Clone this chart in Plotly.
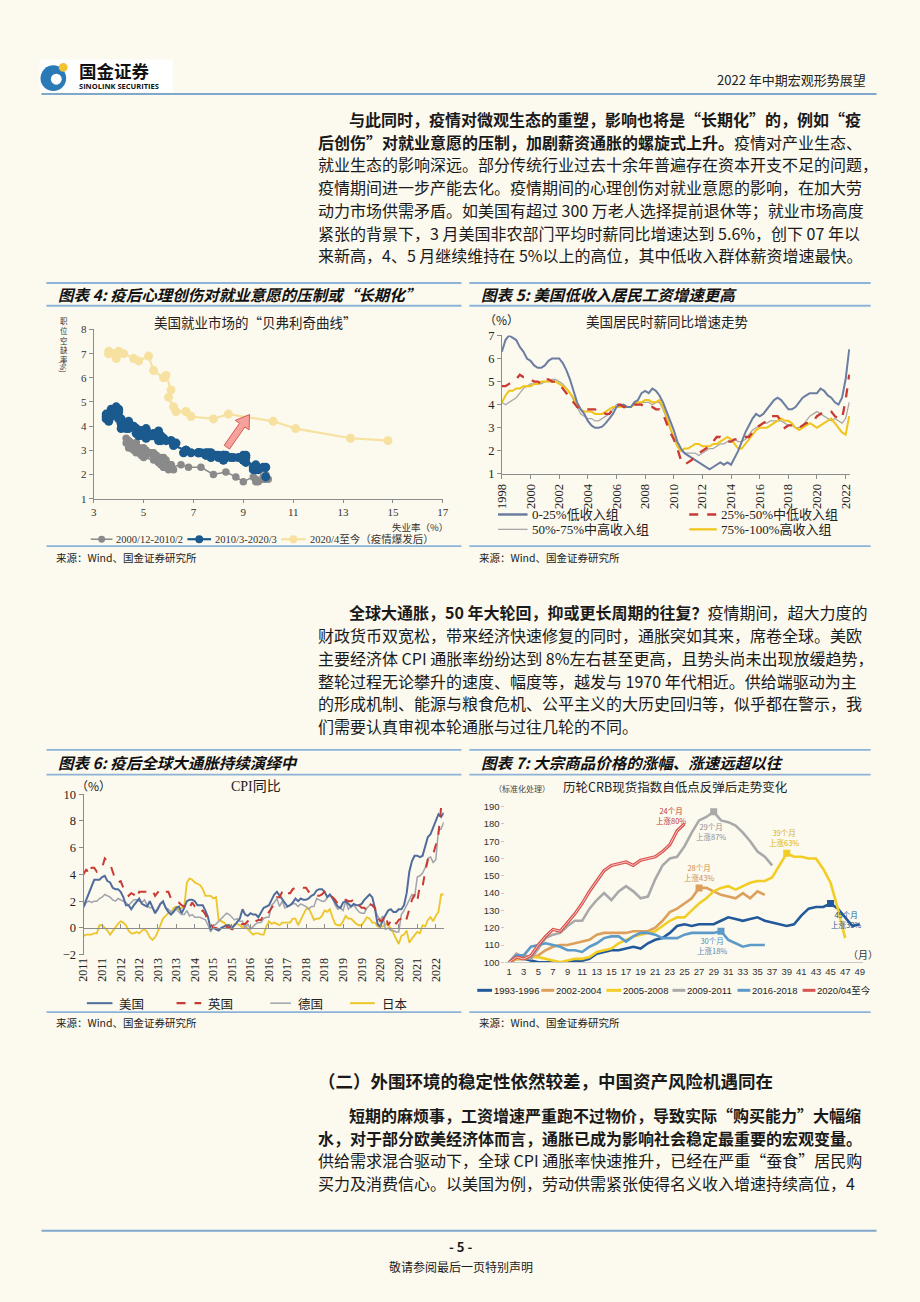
import math
import plotly.graph_objects as go

# ---------------- DATA ----------------
# Chart 4: Beveridge curve (unemployment rate %, job openings rate %)
bev_2000_2010 = [
    (4.3, 3.5), (4.4, 3.4), (4.3, 3.3), (4.4, 3.2), (4.5, 3.3), (4.6, 3.1), (4.7, 3.2), (4.9, 3.0), (5.0, 2.9), (5.3, 2.9), (5.5, 2.8), (5.7, 2.7),
    (5.7, 2.6), (5.7, 2.6), (5.7, 2.5), (5.9, 2.6), (5.8, 2.7), (5.8, 2.5), (5.8, 2.4), (5.7, 2.6), (5.7, 2.5), (5.7, 2.4), (5.9, 2.5), (6.0, 2.4),
    (5.8, 2.3), (5.9, 2.4), (5.9, 2.3), (6.0, 2.2), (6.1, 2.3), (6.2, 2.2), (6.1, 2.3), (6.1, 2.4), (6.1, 2.3), (6.0, 2.4), (5.8, 2.3), (5.7, 2.4),
    (5.7, 2.5), (5.6, 2.5), (5.8, 2.4), (5.6, 2.6), (5.6, 2.6), (5.5, 2.6), (5.5, 2.7), (5.4, 2.7), (5.4, 2.7), (5.5, 2.8), (5.4, 2.8), (5.4, 2.9),
    (5.3, 2.9), (5.4, 2.8), (5.2, 2.9), (5.2, 2.9), (5.1, 3.0), (5.0, 2.9), (5.0, 3.0), (4.9, 3.0), (5.0, 3.1), (5.0, 3.0), (5.0, 3.1), (4.9, 3.1),
    (4.7, 3.2), (4.8, 3.1), (4.7, 3.2), (4.7, 3.3), (4.6, 3.2), (4.6, 3.2), (4.7, 3.3), (4.7, 3.3), (4.5, 3.3), (4.4, 3.4), (4.5, 3.3), (4.4, 3.2),
    (4.6, 3.2), (4.5, 3.3), (4.4, 3.1), (4.5, 3.1), (4.4, 3.2), (4.6, 3.1), (4.7, 3.0), (4.6, 3.0), (4.7, 3.1), (4.7, 3.0), (4.7, 2.9), (5.0, 2.9),
    (5.0, 2.8), (4.9, 2.8), (5.1, 2.8), (5.0, 2.7), (5.4, 2.6), (5.6, 2.5), (5.8, 2.5), (6.1, 2.4), (6.1, 2.3), (6.5, 2.4), (6.8, 2.3), (7.3, 2.3),
    (7.8, 2.0), (8.3, 2.1), (8.7, 1.9), (9.0, 1.7), (9.4, 1.9), (9.5, 1.7), (9.5, 1.8), (9.6, 1.7), (9.8, 1.9), (10.0, 1.8), (9.9, 1.8), (9.9, 2.0),
    (9.8, 1.8), (9.8, 1.9),
]
bev_2010_2020 = [
    (9.9, 1.9), (9.9, 2.3), (9.6, 2.2), (9.4, 2.3), (9.5, 2.2), (9.5, 2.3), (9.6, 2.2), (9.5, 2.4), (9.4, 2.2), (9.8, 2.3),
    (9.1, 2.5), (9.0, 2.6), (9.0, 2.6), (9.1, 2.8), (9.0, 2.7), (9.1, 2.7), (9.0, 2.6), (9.0, 2.7), (9.0, 2.8), (8.8, 2.7), (8.6, 2.7), (8.5, 2.7),
    (8.3, 2.8), (8.3, 2.7), (8.2, 2.8), (8.2, 2.6), (8.2, 2.8), (8.2, 2.7), (8.2, 2.6), (8.0, 2.7), (7.8, 2.8), (7.8, 2.8), (7.7, 2.7), (7.9, 2.8),
    (8.0, 2.8), (7.7, 2.9), (7.5, 2.8), (7.6, 2.9), (7.5, 2.8), (7.5, 2.9), (7.3, 2.9), (7.2, 2.9), (7.2, 2.9), (7.2, 2.9), (6.9, 2.9), (6.7, 3.0),
    (6.6, 2.9), (6.7, 3.0), (6.7, 3.0), (6.2, 3.2), (6.3, 3.3), (6.1, 3.4), (6.2, 3.3), (6.1, 3.4), (5.9, 3.4), (5.7, 3.4), (5.8, 3.5), (5.6, 3.4),
    (5.7, 3.6), (5.5, 3.6), (5.4, 3.7), (5.4, 3.6), (5.6, 3.8), (5.3, 3.6), (5.2, 3.7), (5.1, 3.8), (5.0, 3.6), (5.0, 3.7), (5.1, 3.5), (5.0, 3.7),
    (4.9, 3.8), (4.9, 3.8), (5.0, 3.8), (5.1, 3.9), (4.8, 3.7), (4.9, 3.8), (4.8, 3.6), (4.9, 3.7), (5.0, 3.6), (4.9, 3.8), (4.7, 3.9), (4.7, 3.7),
    (4.7, 3.9), (4.6, 4.0), (4.4, 4.0), (4.4, 3.9), (4.4, 4.0), (4.3, 3.9), (4.3, 4.1), (4.4, 4.2), (4.2, 4.1), (4.1, 4.1), (4.2, 4.0), (4.1, 3.9),
    (4.1, 4.1), (4.1, 4.3), (4.0, 4.3), (4.0, 4.4), (3.8, 4.5), (4.0, 4.6), (3.8, 4.6), (3.8, 4.6), (3.7, 4.7), (3.8, 4.7), (3.8, 4.6), (3.9, 4.8),
    (4.0, 4.7), (3.8, 4.6), (3.8, 4.6), (3.6, 4.5), (3.6, 4.5), (3.6, 4.4), (3.7, 4.4), (3.6, 4.4), (3.5, 4.3), (3.6, 4.4), (3.6, 4.3), (3.6, 4.2),
    (3.5, 4.4), (3.5, 4.5), (4.4, 4.1),
]
bev_2020_now = [
    (14.8, 3.4), (13.3, 3.5), (11.1, 3.9), (10.2, 4.2), (8.4, 4.5), (7.8, 4.3), (6.9, 4.4), (6.7, 4.6), (6.7, 4.6), (6.3, 4.6), (6.2, 4.8),
    (6.0, 5.2), (6.1, 5.5), (5.9, 6.1), (5.8, 6.0), (5.4, 6.3), (5.2, 6.9), (4.8, 6.7), (4.6, 6.8), (4.2, 7.0), (4.0, 7.1), (3.9, 6.8),
    (3.8, 7.0), (3.6, 7.1), (3.6, 7.0), (3.6, 7.0),
]
bev_names = ["2000/12-2010/2", "2010/3-2020/3", "2020/4至今（疫情爆发后）"]
bev_xticks = [3, 5, 7, 9, 11, 13, 15, 17]

# Chart 5: US hourly wage growth by income quartile (%), quarterly from 1998Q1
wage_start_year = 1998
wage_q1 = [6.3, 6.8, 7.0, 6.9, 6.8, 6.5, 6.3, 6.0, 5.9, 5.7, 5.6, 5.6, 5.7, 5.9, 6.0, 6.0, 6.0, 5.8, 5.5, 5.1,
           4.6, 4.1, 3.8, 3.6, 3.3, 3.1, 3.0, 3.0, 3.05, 3.2, 3.4, 3.6, 3.9, 4.0, 4.0, 3.9, 3.9, 4.1, 4.2, 4.5,
           4.6, 4.5, 4.7, 4.6, 4.4, 4.1, 3.7, 3.3, 2.9, 2.4, 2.1, 1.9, 1.8, 1.7, 1.6, 1.5, 1.4, 1.3, 1.2, 1.3,
           1.4, 1.5, 1.4, 1.5, 1.4, 1.7, 2.0, 2.4, 2.8, 3.1, 3.4, 3.6, 3.5, 3.6, 3.8, 4.0, 4.2, 4.3, 4.2, 4.0,
           3.8, 3.8, 3.9, 4.1, 4.3, 4.4, 4.5, 4.5, 4.5, 4.7, 4.6, 4.4, 4.3, 4.1, 4.0, 4.3, 5.1, 6.4]
wage_q2 = [4.8, 4.8, 4.9, 5.0, 5.1, 5.3, 5.2, 5.2, 5.1, 5.0, 5.0, 4.9, 5.1, 5.1, 5.0, 5.0, 4.9, 4.7, 4.5, 4.3,
           4.1, 3.9, 3.8, 3.8, 3.8, 3.8, 3.8, 3.7, 3.7, 3.6, 3.6, 3.8, 4.0, 4.0, 3.9, 3.9, 3.9, 4.0, 4.0, 4.0,
           3.9, 3.9, 3.9, 3.8, 3.8, 3.6, 3.2, 2.8, 2.5, 2.1, 1.6, 1.4, 1.5, 1.6, 1.8, 1.9, 2.0, 2.1, 2.2, 2.4,
           2.6, 2.6, 2.5, 2.4, 2.4, 2.5, 2.5, 2.6, 2.6, 2.6, 2.8, 3.0, 3.1, 3.2, 3.3, 3.5, 3.5, 3.5, 3.3, 3.0,
           3.1, 3.1, 3.0, 3.0, 3.1, 3.2, 3.2, 3.3, 3.5, 3.6, 3.7, 3.7, 3.7, 3.5, 3.4, 3.4, 4.2, 5.3]
wage_q3 = [4.1, 4.0, 4.1, 4.2, 4.3, 4.5, 4.7, 4.8, 4.9, 4.9, 4.9, 4.9, 5.0, 5.0, 5.1, 5.1, 5.0, 4.9, 4.7, 4.5,
           4.2, 3.9, 3.6, 3.5, 3.4, 3.4, 3.3, 3.3, 3.4, 3.5, 3.6, 3.8, 4.0, 4.0, 3.9, 3.9, 3.9, 4.0, 4.0, 4.1,
           4.1, 4.1, 4.0, 4.1, 4.1, 3.8, 3.4, 2.9, 2.5, 2.2, 2.0, 1.9, 1.9, 1.9, 1.9, 1.8, 1.9, 2.0, 2.1, 2.1,
           2.2, 2.3, 2.3, 2.4, 2.5, 2.5, 2.4, 2.4, 2.5, 2.7, 2.9, 3.0, 3.1, 3.2, 3.2, 3.3, 3.3, 3.3, 3.3, 3.2,
           3.1, 3.1, 3.0, 3.0, 3.1, 3.3, 3.5, 3.6, 3.7, 3.6, 3.5, 3.4, 3.3, 3.4, 3.3, 3.2, 3.4, 4.1]
wage_q4 = [4.1, 4.4, 4.6, 4.6, 4.7, 4.7, 4.8, 4.8, 4.8, 4.9, 4.9, 5.0, 5.0, 5.0, 5.0, 5.0, 4.9, 4.8, 4.7, 4.5,
           4.3, 4.0, 3.8, 3.7, 3.7, 3.7, 3.6, 3.6, 3.6, 3.7, 3.8, 3.9, 3.9, 3.9, 4.0, 3.9, 3.9, 4.0, 4.1, 4.1,
           4.2, 4.2, 4.1, 4.1, 4.2, 3.9, 3.5, 3.0, 2.6, 2.2, 2.0, 2.1, 2.1, 2.2, 2.3, 2.3, 2.2, 2.2, 2.2, 2.3,
           2.3, 2.4, 2.5, 2.6, 2.5, 2.3, 2.1, 2.1, 2.3, 2.5, 2.7, 2.9, 3.0, 3.0, 3.0, 3.1, 3.2, 3.3, 3.4, 3.3,
           3.3, 3.2, 3.0, 2.9, 3.0, 3.1, 3.2, 3.1, 3.0, 3.1, 3.2, 3.3, 3.4, 3.2, 3.0, 2.8, 2.7, 3.5]
wage_names = ["0-25%低收入组", "25%-50%中低收入组", "50%-75%中高收入组", "75%-100%高收入组"]
wage_xticks = [str(y) for y in range(1998, 2023, 2)]

# Chart 6: CPI YoY (%), monthly 2011-01 .. 2022-05
cpi_start = (2011, 1)
cpi_us = [1.6, 2.1, 2.7, 3.2, 3.6, 3.6, 3.6, 3.8, 3.9, 3.5, 3.4, 3.0,
          2.9, 2.9, 2.7, 2.3, 1.7, 1.7, 1.4, 1.7, 2.0, 2.2, 1.8, 1.7,
          1.6, 2.0, 1.5, 1.1, 1.4, 1.8, 2.0, 1.5, 1.2, 1.0, 1.2, 1.5,
          1.6, 1.1, 1.5, 2.0, 2.1, 2.1, 2.0, 1.7, 1.7, 1.7, 1.3, 0.8,
          -0.1, 0.0, -0.1, -0.2, 0.0, 0.1, 0.2, 0.2, 0.0, 0.2, 0.5, 0.7,
          1.4, 1.0, 0.9, 1.1, 1.0, 1.0, 0.8, 1.1, 1.5, 1.6, 1.7, 2.1,
          2.5, 2.7, 2.4, 2.2, 1.9, 1.6, 1.7, 1.9, 2.2, 2.0, 2.2, 2.1,
          2.1, 2.2, 2.4, 2.5, 2.8, 2.9, 2.9, 2.7, 2.3, 2.5, 2.2, 1.9,
          1.6, 1.5, 1.9, 2.0, 1.8, 1.6, 1.8, 1.7, 1.7, 1.8, 2.1, 2.3,
          2.5, 2.3, 1.5, 0.3, 0.1, 0.6, 1.0, 1.3, 1.4, 1.2, 1.2, 1.4,
          1.4, 1.7, 2.6, 4.2, 5.0, 5.4, 5.4, 5.3, 5.4, 6.2, 6.8, 7.0,
          7.5, 7.9, 8.5, 8.3, 8.6]
cpi_uk = [4.0, 4.4, 4.0, 4.5, 4.5, 4.2, 4.4, 4.5, 5.2, 5.0, 4.8, 4.2,
          3.6, 3.4, 3.5, 3.0, 2.8, 2.4, 2.6, 2.5, 2.2, 2.7, 2.7, 2.7,
          2.7, 2.8, 2.8, 2.4, 2.7, 2.9, 2.8, 2.7, 2.7, 2.2, 2.1, 2.0,
          1.9, 1.7, 1.6, 1.8, 1.5, 1.9, 1.6, 1.5, 1.2, 1.3, 1.0, 0.5,
          0.3, 0.0, 0.0, -0.1, 0.1, 0.0, 0.1, 0.0, -0.1, -0.1, 0.1, 0.2,
          0.3, 0.3, 0.5, 0.3, 0.3, 0.5, 0.6, 0.6, 1.0, 0.9, 1.2, 1.6,
          1.8, 2.3, 2.3, 2.7, 2.9, 2.6, 2.6, 2.9, 3.0, 3.0, 3.1, 3.0,
          3.0, 2.7, 2.5, 2.4, 2.4, 2.4, 2.5, 2.7, 2.4, 2.4, 2.3, 2.1,
          1.8, 1.9, 1.9, 2.1, 2.0, 2.0, 2.1, 1.7, 1.7, 1.5, 1.5, 1.3,
          1.8, 1.7, 1.5, 0.8, 0.5, 0.6, 1.0, 0.2, 0.5, 0.7, 0.3, 0.6,
          0.7, 0.4, 0.7, 1.5, 2.1, 2.5, 2.0, 3.2, 3.1, 4.2, 5.1, 5.4,
          5.5, 6.2, 7.0, 9.0, 9.1]
cpi_de = [1.5, 1.9, 2.0, 1.9, 2.0, 2.0, 2.2, 2.3, 2.5, 2.4, 2.3, 2.1,
          2.0, 2.2, 2.1, 2.0, 1.9, 1.7, 1.9, 2.1, 2.1, 2.0, 1.9, 2.1,
          1.7, 1.5, 1.5, 1.2, 1.5, 1.8, 1.9, 1.5, 1.4, 1.2, 1.3, 1.4,
          1.2, 1.0, 1.0, 1.3, 0.9, 1.0, 0.8, 0.8, 0.8, 0.7, 0.6, 0.2,
          -0.3, 0.1, 0.3, 0.5, 0.7, 0.9, 1.1, 1.0, 0.8, 0.6, 0.7, 0.5,
          0.5, 0.0, 0.3, -0.1, 0.1, 0.3, 0.4, 0.4, 0.7, 0.8, 0.8, 1.7,
          1.9, 2.2, 1.6, 2.0, 1.5, 1.6, 1.7, 1.8, 1.8, 1.6, 1.8, 1.7,
          1.6, 1.4, 1.6, 1.6, 2.2, 2.1, 2.0, 2.0, 2.3, 2.5, 2.3, 1.7,
          1.4, 1.5, 1.3, 2.0, 1.4, 1.6, 1.7, 1.4, 1.2, 1.1, 1.1, 1.5,
          1.7, 1.7, 1.4, 0.9, 0.6, 0.9, -0.1, 0.0, -0.2, -0.2, -0.3, -0.3,
          1.0, 1.3, 1.7, 2.0, 2.5, 2.3, 3.8, 3.9, 4.1, 4.5, 5.2, 5.3,
          4.9, 5.1, 7.3, 7.4, 7.9]
cpi_jp = [-0.6, -0.5, -0.5, -0.5, -0.4, -0.4, 0.2, 0.2, 0.0, -0.2, -0.5, -0.2,
          0.1, 0.3, 0.5, 0.4, 0.2, -0.2, -0.4, -0.4, -0.3, -0.4, -0.2, -0.1,
          -0.3, -0.7, -0.9, -0.7, -0.3, 0.2, 0.7, 0.9, 1.1, 1.1, 1.5, 1.6,
          1.4, 1.5, 1.6, 3.4, 3.7, 3.6, 3.4, 3.3, 3.2, 2.9, 2.4, 2.4,
          2.4, 2.2, 2.3, 0.6, 0.5, 0.4, 0.2, 0.2, 0.0, 0.3, 0.3, 0.2,
          0.0, 0.3, -0.1, -0.3, -0.5, -0.4, -0.4, -0.5, -0.5, 0.1, 0.5, 0.3,
          0.4, 0.3, 0.2, 0.4, 0.4, 0.4, 0.4, 0.7, 0.7, 0.2, 0.6, 1.0,
          1.4, 1.5, 1.1, 0.6, 0.7, 0.7, 0.9, 1.3, 1.2, 1.4, 0.8, 0.3,
          0.2, 0.2, 0.5, 0.9, 0.7, 0.7, 0.5, 0.3, 0.2, 0.2, 0.5, 0.8,
          0.7, 0.4, 0.4, 0.1, 0.1, 0.1, 0.3, 0.2, 0.0, -0.4, -0.9, -1.2,
          -0.6, -0.5, -0.2, -1.1, -0.8, -0.5, -0.3, -0.4, 0.2, 0.1, 0.6, 0.8,
          0.5, 0.9, 1.2, 2.5, 2.5]
cpi_names = ["美国", "英国", "德国", "日本"]
cpi_tick_step = 7

# Chart 7: CRB spot index, normalised from trough (=100), by month
crb_1993 = [100, 102, 102, 101, 100, 100, 100, 100, 100, 101, 101, 102, 105, 106, 107, 107, 108, 109, 108, 111,
            113, 114, 117, 121, 122, 121, 122, 122, 122, 124, 126, 125, 124, 125, 126, 124, 123, 122, 121, 122,
            127, 131, 132, 132, 134, 131, 126, 121, 122]
crb_2002 = [100, 102, 104, 103, 104, 107, 109, 110, 110, 111, 112, 113, 116, 117, 117, 117, 117, 118, 118, 118,
            120, 124, 129, 131, 134, 137, 143, 143, 141, 139, 138, 137, 140, 137, 141, 139]
crb_2005 = [100, 102, 102, 103, 103, 102, 101, 100, 101, 102, 102, 103, 106, 107, 108, 111, 113, 115, 116, 117,
            118, 121, 124, 126, 126, 130, 134, 137, 141, 143, 144, 142, 144, 146, 147, 147, 149, 156, 163, 161,
            161, 160, 160, 154, 146, 131, 114]
crb_2009 = [100, 105, 103, 102, 108, 114, 116, 117, 121, 124, 124, 131, 136, 140, 136, 141, 144, 141, 137, 138,
            148, 156, 160, 161, 167, 175, 182, 184, 187, 182, 181, 179, 175, 170, 164, 161, 156]
crb_2016 = [100, 104, 104, 109, 110, 111, 110, 109, 107, 107, 106, 109, 111, 114, 115, 115, 112, 115, 117, 117,
            116, 114, 114, 114, 116, 117, 117, 117, 117, 118, 113, 111, 109, 110, 110, 110]
crb_2020 = [100, 103, 102, 104, 110, 115, 119, 118, 123, 128, 134, 141, 147, 153, 156, 157, 158, 156, 159, 160,
            161, 164, 168, 176, 180]
crb_names = ["1993-1996", "2002-2004", "2005-2008", "2009-2011", "2016-2018", "2020/04至今"]
crb_peak_month = {"1993-1996": 45, "2002-2004": 27, "2005-2008": 39, "2009-2011": 29, "2016-2018": 30}
crb_notes = {"2020/04至今": "24个月<br>上涨80%", "2009-2011": "29个月<br>上涨87%", "2005-2008": "39个月<br>上涨63%",
             "2002-2004": "28个月<br>上涨43%", "1993-1996": "45个月<br>上涨33%", "2016-2018": "30个月<br>上涨18%"}

# ---------------- LAYOUT HELPERS ----------------
W, H = 920, 1302
BG = "#FCF9EE"
RULE = "#8DB4D8"
SERIF = "Liberation Serif, Noto Sans CJK SC, serif"
SANS = "Liberation Sans, Noto Sans CJK SC, sans-serif"
CJK = "Noto Sans CJK SC, Liberation Sans, sans-serif"


def X(px):
    return px / W


def Y(py):
    return 1 - py / H


shapes, annos = [], []


def hline(x0, x1, y, color=RULE, width=1.8, dash="solid"):
    shapes.append(dict(type="line", xref="paper", yref="paper", x0=X(x0), x1=X(x1), y0=Y(y), y1=Y(y),
                       line=dict(color=color, width=width, dash=dash)))


def circ(cx, cy, r, color, line=None):
    shapes.append(dict(type="circle", xref="paper", yref="paper", x0=X(cx - r), x1=X(cx + r), y0=Y(cy + r), y1=Y(cy - r),
                       fillcolor=color, line=dict(width=0 if line is None else 1, color=line or color)))


def txt(x, y, s, size, color="#1a1a1a", anchor="left", family=CJK, yanchor="middle", **kw):
    annos.append(dict(x=X(x), y=Y(y), xref="paper", yref="paper", text=s, showarrow=False, xanchor=anchor,
                      yanchor=yanchor, font=dict(size=size, color=color, family=family), **kw))


fig = go.Figure()

# ---------------- CHART 4 ----------------
c_gray, c_blue, c_yel = "#8A8A8A", "#1B5A8E", "#F7E1A0"
for pts, col, ms, lw, nm in [(bev_2000_2010, c_gray, 7.5, 1.5, bev_names[0]),
                             (bev_2010_2020, c_blue, 9, 2.2, bev_names[1]),
                             (bev_2020_now, c_yel, 9, 2.2, bev_names[2])]:
    fig.add_trace(go.Scatter(x=[p[0] for p in pts], y=[p[1] for p in pts], mode="lines+markers", name=nm,
                             line=dict(color=col, width=lw), marker=dict(size=ms, color=col),
                             xaxis="x", yaxis="y", showlegend=False))

# ---------------- CHART 5 ----------------
wage_t = [wage_start_year + 0.25 * i for i in range(len(wage_q1))]
c_slate, c_red, c_lgray, c_gold = "#6B7DA0", "#C83A33", "#A8A8A8", "#F0C419"
for ys, col, lw, dash, nm in [(wage_q3, c_lgray, 1.3, "solid", wage_names[2]),
                              (wage_q4, c_gold, 2.0, "solid", wage_names[3]),
                              (wage_q1, c_slate, 2.0, "solid", wage_names[0]),
                              (wage_q2, c_red, 2.3, "dash", wage_names[1])]:
    fig.add_trace(go.Scatter(x=wage_t, y=ys, mode="lines", name=nm, line=dict(color=col, width=lw, dash=dash),
                             xaxis="x2", yaxis="y2", showlegend=False))

# ---------------- CHART 6 ----------------
n_cpi = len(cpi_us)
cpi_idx = list(range(n_cpi))
cpi_year = [cpi_start[0] + (cpi_start[1] - 1 + i) // 12 for i in cpi_idx]
cpi_tickvals = cpi_idx[::cpi_tick_step]
cpi_ticktext = [str(cpi_year[i]) for i in cpi_tickvals]
c6_us, c6_uk, c6_de, c6_jp = "#4F6C9C", "#C83A33", "#A0A3AC", "#ECC52A"
for ys, col, lw, dash, nm in [(cpi_jp, c6_jp, 1.8, "solid", cpi_names[3]),
                              (cpi_de, c6_de, 1.5, "solid", cpi_names[2]),
                              (cpi_us, c6_us, 2.0, "solid", cpi_names[0]),
                              (cpi_uk, c6_uk, 2.0, "dash", cpi_names[1])]:
    fig.add_trace(go.Scatter(x=cpi_idx, y=ys, mode="lines", name=nm, line=dict(color=col, width=lw, dash=dash),
                             xaxis="x3", yaxis="y3", showlegend=False))
fig.add_trace(go.Scatter(x=[], y=[], xaxis="x4", yaxis="y3", showlegend=False, hoverinfo="skip"))

# ---------------- CHART 7 ----------------
crb_series = [crb_1993, crb_2002, crb_2005, crb_2009, crb_2016, crb_2020]
crb_colors = ["#22599B", "#DDA05C", "#F2CE25", "#A9A9A9", "#5C9BC9", "#D9534F"]
for ys, col, nm in zip(crb_series, crb_colors, crb_names):
    months = list(range(1, len(ys) + 1))
    if nm == "2020/04至今":
        fig.add_trace(go.Scatter(x=months, y=ys, mode="lines", name=nm, line=dict(color=col, width=3.2),
                                 xaxis="x5", yaxis="y5", showlegend=False))
        fig.add_trace(go.Scatter(x=months, y=ys, mode="lines", name=nm, line=dict(color="#F6C9C2", width=1),
                                 xaxis="x5", yaxis="y5", showlegend=False, hoverinfo="skip"))
    else:
        fig.add_trace(go.Scatter(x=months, y=ys, mode="lines", name=nm, line=dict(color=col, width=2.6),
                                 xaxis="x5", yaxis="y5", showlegend=False))
    if nm in crb_peak_month:
        m = crb_peak_month[nm]
        fig.add_trace(go.Scatter(x=[m], y=[ys[m - 1]], mode="markers", marker=dict(symbol="square", size=7, color=col),
                                 xaxis="x5", yaxis="y5", showlegend=False, hoverinfo="skip"))

note_pos = {"2020/04至今": (23.2, 185), "2009-2011": (28.6, 175.5), "2005-2008": (38.6, 172),
            "2002-2004": (27.0, 152), "1993-1996": (47.1, 124.5), "2016-2018": (28.8, 109.5)}
note_col = {"2020/04至今": "#C0392B", "2009-2011": "#909090", "2005-2008": "#D9B416", "2002-2004": "#D08E45",
            "1993-1996": "#22599B", "2016-2018": "#4F8DBF"}
for nm, s in crb_notes.items():
    x, y = note_pos[nm]
    annos.append(dict(x=x, y=y, xref="x5", yref="y5", text=s, showarrow=False,
                      font=dict(size=7.5, color=note_col[nm], family=CJK), align="center"))

# ---------------- AXES ----------------
axis_common = dict(showgrid=False, zeroline=False, linecolor="#8C8C8C", tickcolor="#8C8C8C", ticklen=4)
layout_axes = dict(
    xaxis=dict(domain=[X(88), X(442)], range=[3, 17], tickvals=bev_xticks, showline=True, ticks="outside",
               anchor="y", tickfont=dict(family=SERIF, size=11, color="#333"), showgrid=False, zeroline=False,
               linecolor="#8C8C8C", tickcolor="#8C8C8C", ticklen=3),
    yaxis=dict(domain=[Y(497), Y(326)], range=[1, 8], dtick=1, showline=True, ticks="outside", anchor="x",
               tickfont=dict(family=SERIF, size=11, color="#333"), **axis_common),
    xaxis2=dict(domain=[X(502), X(855)], range=[1998, 2022.3], tickvals=[int(t) for t in wage_xticks],
                ticktext=wage_xticks, tickangle=-90, showline=True, ticks="outside", anchor="y2",
                tickfont=dict(family=SERIF, size=12.5, color="#222"), **axis_common),
    yaxis2=dict(domain=[Y(472), Y(332)], range=[1, 7], dtick=1, showline=True, ticks="outside", anchor="x2",
                tickfont=dict(family=SERIF, size=12.5, color="#222"), **axis_common),
    xaxis3=dict(domain=[X(77.7), X(443)], range=[0, 136], tickvals=cpi_tickvals, ticktext=cpi_ticktext,
                tickangle=-90, showline=False, ticks="", anchor="y3",
                tickfont=dict(family=SERIF, size=12, color="#222"), **axis_common),
    yaxis3=dict(domain=[Y(958), Y(795.7)], range=[-2, 10], dtick=2, showline=True, ticks="outside", anchor="x3",
                tickfont=dict(family=SERIF, size=12.5, color="#222"), **axis_common),
    xaxis5=dict(domain=[X(505.6), X(868.7)], range=[0.5, 49.5], tickvals=list(range(1, 50, 2)), showline=True,
                ticks="", anchor="y5", tickfont=dict(family=SANS, size=9.5, color="#333"),
                showgrid=False, zeroline=False, linecolor="#C8C8C8"),
    yaxis5=dict(domain=[Y(965.7), Y(808.3)], range=[100, 190], dtick=10, showline=False, ticks="outside",
                ticklen=3, tickcolor="#C8C8C8", anchor="x5", showgrid=False, zeroline=False,
                tickfont=dict(family=SANS, size=9.5, color="#333")),
)
y3d = layout_axes["yaxis3"]["domain"]
zero_pos = y3d[0] + (0 - (-2)) / 12 * (y3d[1] - y3d[0])
layout_axes["xaxis4"] = dict(overlaying="x3", matches="x3", anchor="free", position=zero_pos, showline=True,
                             ticks="inside", ticklen=4, showticklabels=False, tickvals=cpi_tickvals,
                             showgrid=False, zeroline=False, linecolor="#8C8C8C", tickcolor="#8C8C8C")

# ---------------- PAGE DECORATION ----------------
# header / logo
shapes.append(dict(type="rect", xref="paper", yref="paper", x0=X(33), x1=X(168), y0=Y(86), y1=Y(53),
                   fillcolor="white", line=dict(width=0)))
circ(47, 72, 13, "#2A7AB8")
circ(50, 73, 5.5, "white")
circ(57, 61, 4.5, "#F2C230")
txt(71, 64, "<b>国金证券</b>", 17.5, color="#111")
txt(71, 80, "<b>SINOLINK SECURITIES</b>", 7.5, color="#111", family="Open Sans, Liberation Sans, sans-serif")
txt(873, 73, "2022 年中期宏观形势展望", 13, anchor="right", color="#222")
hline(35, 882, 88, color="#7FA8CC", width=2)

# paragraphs
BODY = 16
LS = 23
p1 = ["<b>与此同时，疫情对微观生态的重塑，影响也将是“长期化”的，例如“疫</b>",
      "<b>后创伤”对就业意愿的压制，加剧薪资通胀的螺旋式上升。</b>疫情对产业生态、",
      "就业生态的影响深远。部分传统行业过去十余年普遍存在资本开支不足的问题，",
      "疫情期间进一步产能去化。疫情期间的心理创伤对就业意愿的影响，在加大劳",
      "动力市场供需矛盾。如美国有超过 300 万老人选择提前退休等；就业市场高度",
      "紧张的背景下，3 月美国非农部门平均时薪同比增速达到 5.6%，创下 07 年以",
      "来新高，4、5 月继续维持在 5%以上的高位，其中低收入群体薪资增速最快。"]
for i, s in enumerate(p1):
    txt(345 if i == 0 else 313, 113 + LS * i, s, BODY)

p2 = ["<b>全球大通胀，50 年大轮回，抑或更长周期的往复？</b>疫情期间，超大力度的",
      "财政货币双宽松，带来经济快速修复的同时，通胀突如其来，席卷全球。美欧",
      "主要经济体 CPI 通胀率纷纷达到 8%左右甚至更高，且势头尚未出现放缓趋势，",
      "整轮过程无论攀升的速度、幅度等，越发与 1970 年代相近。供给端驱动为主",
      "的形成机制、能源与粮食危机、公平主义的大历史回归等，似乎都在警示，我",
      "们需要认真审视本轮通胀与过往几轮的不同。"]
for i, s in enumerate(p2):
    txt(345 if i == 0 else 313, 612 + LS * i, s, BODY)

txt(313, 1085, "<b>（二）外围环境的稳定性依然较差，中国资产风险机遇同在</b>", 17.5)
p3 = ["<b>短期的麻烦事，工资增速严重跑不过物价，导致实际“购买能力”大幅缩</b>",
      "<b>水，对于部分欧美经济体而言，通胀已成为影响社会稳定最重要的宏观变量。</b>",
      "供给需求混合驱动下，全球 CPI 通胀率快速推升，已经在严重“蚕食”居民购",
      "买力及消费信心。以美国为例，劳动供需紧张使得名义收入增速持续高位，4"]
for i, s in enumerate(p3):
    txt(345 if i == 0 else 313, 1120 + LS * i, s, BODY)

# footer
hline(35, 882, 1237, color="#7FA8CC", width=2)
txt(460, 1253, "<b>- 5 -</b>", 13, anchor="center")
txt(460, 1273, "敬请参阅最后一页特别声明", 12, anchor="center")

# chart frames
for (x0, x1, ytop, ytitle, ysub, ysrc, ysrct, title) in [
        (40, 461, 279, 290, 302, 545, 556, "图表 4: 疫后心理创伤对就业意愿的压制或“长期化”"),
        (469, 876, 279, 290, 302, 545, 556, "图表 5: 美国低收入居民工资增速更高"),
        (40, 461, 751, 763, 776, 1016, 1027, "图表 6: 疫后全球大通胀持续演绎中"),
        (469, 876, 751, 763, 776, 1016, 1027, "图表 7: 大宗商品价格的涨幅、涨速远超以往")]:
    hline(x0, x1, ytop)
    hline(x0, x1, ysub)
    hline(x0, x1, ysrc)
    txt(x0 + 10, ytitle, "<b><i>" + title + "</i></b>", 15.5, color="#111")
    txt(x0 + 8, ysrct, "来源：Wind、国金证券研究所", 10.5, color="#222")

# chart 4 texts
txt(252, 318, "美国就业市场的“贝弗利奇曲线”", 13.5, anchor="center", color="#222")
txt(58, 309, "职<br>位<br>空<br>缺<br>率", 7.5, anchor="center", yanchor="top", color="#333")
txt(58, 364, "(%)", 7.5, anchor="center", color="#333", textangle=90)
txt(449, 526, "失业率（%）", 9.5, anchor="right", color="#333")


# block arrow in chart 4
def block_arrow(x0, y0, x1, y1, shaft=3.3, head=8.5, headlen=13):
    dx, dy = x1 - x0, y1 - y0
    L = math.hypot(dx, dy)
    ux, uy = dx / L, dy / L
    nx, ny = -uy, ux
    bx, by = x1 - ux * headlen, y1 - uy * headlen
    pts = [(x0 + nx * shaft, y0 + ny * shaft), (bx + nx * shaft, by + ny * shaft), (bx + nx * head, by + ny * head),
           (x1, y1), (bx - nx * head, by - ny * head), (bx - nx * shaft, by - ny * shaft), (x0 - nx * shaft, y0 - ny * shaft)]
    return "M " + " L ".join(f"{X(px):.5f},{Y(py):.5f}" for px, py in pts) + " Z"


shapes.append(dict(type="path", xref="paper", yref="paper", path=block_arrow(223, 445, 246, 412),
                   fillcolor="#F4A29B", line=dict(color="#D65A52", width=1)))

# chart 4 legend
leg4 = [(85, 107, c_gray, 1.5, 3.5, bev_names[0]), (183, 207, c_blue, 2.2, 4, bev_names[1]),
        (278, 303, c_yel, 2.2, 4, bev_names[2])]
for a, b, col, lw, r, nm in leg4:
    hline(a, b, 538, color=col, width=lw)
    circ((a + b) / 2, 538, r, col)
    txt(b + 2, 538, nm, 10.5, family=SERIF, color="#333")

# chart 5 texts + legend
txt(669, 317, "美国居民时薪同比增速走势", 13.5, anchor="center", color="#222")
txt(502, 316, "（%）", 12, anchor="center", color="#222")
leg5 = [(498, 528, 513, c_slate, 2.5, "solid", wage_names[0]), (692, 720, 513, c_red, 2.5, "dash", wage_names[1]),
        (498, 528, 528, c_lgray, 1.3, "solid", wage_names[2]), (692, 720, 528, c_gold, 2.2, "solid", wage_names[3])]
for a, b, yy, col, lw, dash, nm in leg5:
    hline(a, b, yy, color=col, width=lw, dash=dash)
    txt(b + 2, yy, nm, 13, family=SERIF, color="#222")

# chart 6 texts + legend
txt(253, 788, "CPI同比", 14, anchor="center", color="#222", family=SERIF)
txt(88, 787, "（%）", 12, anchor="center", color="#222")
leg6 = [(81, 107, c6_us, 2.0, "solid", cpi_names[0]), (172, 197, c6_uk, 2.2, "dash", cpi_names[1]),
        (267, 288, c6_de, 1.5, "solid", cpi_names[2]), (348, 373, c6_jp, 2.0, "solid", cpi_names[3])]
for a, b, col, lw, dash, nm in leg6:
    hline(a, b, 1007, color=col, width=lw, dash=dash)
    txt(b + 5, 1007, nm, 12.5, color="#222")

# chart 7 texts + legend
txt(678, 788, "历轮CRB现货指数自低点反弹后走势变化", 12.5, anchor="center", color="#222")
txt(522, 790, "（标准化处理）", 8, anchor="center", color="#444")
txt(868, 958, "（月）", 10, anchor="center", color="#333")
leg7_x = [(477, 492), (542, 555), (608, 623), (675, 688), (741, 754), (807, 820)]
for (a, b), col, nm in zip(leg7_x, crb_colors, crb_names):
    hline(a, b, 994, color=col, width=3)
    txt(b, 994, nm, 9.5, family=SANS, color="#222")

fig.update_layout(
    width=W, height=H, margin=dict(l=0, r=0, t=0, b=0, pad=0),
    paper_bgcolor=BG, plot_bgcolor="rgba(0,0,0,0)", showlegend=False,
    shapes=shapes, annotations=annos, **layout_axes,
)
fig.write_html("out.html", config={"displayModeBar": False},
               post_script="document.body.style.margin='0px';document.body.style.padding='0px';"
                           "document.body.style.background='#FCF9EE';"
                           "document.documentElement.style.background='#FCF9EE';")
